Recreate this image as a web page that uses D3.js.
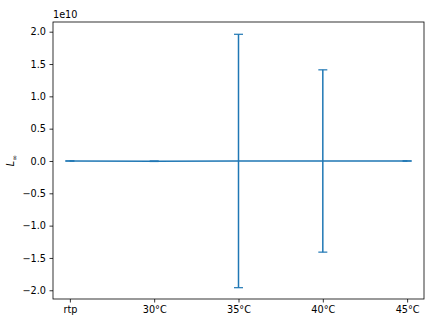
<!DOCTYPE html>
<html>
<head>
<meta charset="utf-8">
<script src="https://cdn.jsdelivr.net/npm/d3@7"></script>
<style>
  body { margin: 0; background: #fff; }
  text { font-family: "DejaVu Sans", sans-serif; }
</style>
</head>
<body>
<div id="chart"></div>
<script>
// data (values in units of 1e10)
const categories = ["rtp", "30°C", "35°C", "40°C", "45°C"];
const means = [0.0, -0.004, 0.0, 0.0, 0.0];
const errors = [0.003, 0.004, 1.96, 1.41, 0.003];
const yTicks = [-2.0, -1.5, -1.0, -0.5, 0.0, 0.5, 1.0, 1.5, 2.0];

const W = 448, H = 326;
const margin = {top: 22, right: 24, bottom: 27, left: 53};
const width = W - margin.left - margin.right,
    height = H - margin.top - margin.bottom;

const svg = d3.select("#chart")
    .append("svg")
    .attr("width", W)
    .attr("height", H);

const g = svg.append("g")
    .attr("transform", `translate(${margin.left},${margin.top})`);

const x = d3.scaleLinear()
    .domain([-0.2, categories.length - 1 + 0.2])
    .range([0, width]);

const y = d3.scaleLinear()
    .domain([-2.135, 2.15])
    .range([height, 0]);

const blue = "#1f77b4";

// line through the means
g.append("path")
    .datum(means)
    .attr("fill", "none")
    .attr("stroke", blue)
    .attr("stroke-width", 1.5)
    .attr("d", d3.line()
        .x((d, i) => x(i))
        .y(d => y(d)));

// error bars
const bars = g.selectAll(".err")
    .data(means)
    .enter().append("g")
    .attr("class", "err");

bars.append("line")
    .attr("x1", (d, i) => x(i))
    .attr("x2", (d, i) => x(i))
    .attr("y1", (d, i) => y(d - errors[i]))
    .attr("y2", (d, i) => y(d + errors[i]))
    .attr("stroke", blue)
    .attr("stroke-width", 1.5);

[-1, 1].forEach(function (s) {
    bars.append("line")
        .attr("x1", (d, i) => x(i) - 4.5)
        .attr("x2", (d, i) => x(i) + 4.5)
        .attr("y1", (d, i) => y(d + s * errors[i]))
        .attr("y2", (d, i) => y(d + s * errors[i]))
        .attr("stroke", blue)
        .attr("stroke-width", 1.2);
});

// axes
const xAxis = g.append("g")
    .attr("transform", `translate(0,${height})`)
    .call(d3.axisBottom(x)
        .tickValues(d3.range(categories.length))
        .tickFormat(i => categories[i])
        .tickSize(3.5)
        .tickPadding(3.5));

const yAxis = g.append("g")
    .call(d3.axisLeft(y)
        .tickValues(yTicks)
        .tickFormat(d => d3.format(".1f")(d).replace("-", "\u2212"))
        .tickSize(3.5)
        .tickPadding(3.5));

[xAxis, yAxis].forEach(function (a) {
    a.select(".domain").remove();
    a.selectAll("text").attr("font-size", 9.7).attr("fill", "#000")
        .attr("font-family", "DejaVu Sans, sans-serif");
    a.selectAll("line").attr("stroke", "#000").attr("stroke-width", 0.8);
});

// frame
g.append("rect")
    .attr("width", width)
    .attr("height", height)
    .attr("fill", "none")
    .attr("stroke", "#000")
    .attr("stroke-width", 0.8);

// offset label
svg.append("text")
    .attr("x", margin.left)
    .attr("y", margin.top - 4)
    .attr("font-size", 9.7)
    .text("1e10");

// y label L∞
const yl = svg.append("text")
    .attr("transform", `translate(14,${margin.top + height / 2}) rotate(-90)`)
    .attr("text-anchor", "middle")
    .attr("font-size", 9.7);
yl.append("tspan").attr("font-style", "italic").text("L");
yl.append("tspan").attr("font-size", 7).attr("dy", 2.5).text("∞");
</script>
</body>
</html>
